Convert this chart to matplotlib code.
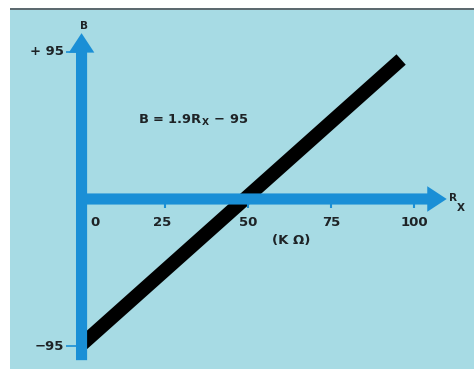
import matplotlib.pyplot as plt
from matplotlib.patches import Rectangle

# values
rx_line = [0, 96]          # R_X (kilo-ohm) at the ends of the drawn line
b_line = [-94, 90]         # B at the ends of the drawn line
x_ticks = [0, 25, 50, 75, 100]
x_tick_labels = ['0', '25', '50', '75', '100']
y_ticks = [95, -95]
y_tick_labels = ['+ 95', '\u221295']

bg = '#a7dbe4'
blue = '#1a8fd6'
ink = '#1e2326'

fig = plt.figure(figsize=(4.74, 3.69), dpi=100)
fig.patch.set_facecolor('white')

ax = fig.add_axes([0, 0, 1, 1])
ax.set_xlim(-24.5, 117.9)
ax.set_ylim(-109.7, 128.4)
ax.axis('off')

# light blue card with a grey top edge, white margin on left and top
ax.add_patch(Rectangle((10 / 474, 0), 1, 1 - 9 / 369, transform=fig.transFigure,
                       facecolor=bg, edgecolor='none', zorder=0))
ax.add_patch(Rectangle((10 / 474, 1 - 10 / 369), 1, 2 / 369, transform=fig.transFigure,
                       facecolor='#5d6a70', edgecolor='none', zorder=0))

# B = 1.9 Rx - 95  (under the axis arrows)
ax.plot(rx_line, b_line, color='black', lw=10, solid_capstyle='butt', zorder=3)

# axes drawn as thick blue arrows
arrow = dict(arrowstyle='simple,head_length=0.7,head_width=0.92,tail_width=0.4',
             color=blue, lw=0, shrinkA=0, shrinkB=0, mutation_scale=20)
ax.annotate('', xy=(0, 107), xytext=(0, -104), arrowprops=arrow, zorder=4)
ax.annotate('', xy=(109.7, 0), xytext=(-1.6, 0), arrowprops=arrow, zorder=4)

# small tick marks
for t in x_ticks[1:]:
    ax.plot([t, t], [-2, -6], color=blue, lw=1.5, solid_capstyle='butt', zorder=4)
for t in y_ticks:
    ax.plot([-4.6, -1.5], [t, t], color=blue, lw=1.2, solid_capstyle='butt', zorder=4)

fs = 9.5
shift = {0: 4, 25: -0.8}
for t, lab in zip(x_ticks, x_tick_labels):
    ax.text(t + shift.get(t, 0), -15, lab, ha='center', va='center',
            fontsize=fs, color=ink, fontweight='bold')
for t, lab in zip(y_ticks, y_tick_labels):
    ax.text(-5.3, t, lab, ha='right', va='center', fontsize=fs, color=ink, fontweight='bold')

ax.text(0.6, 111.6, 'B', ha='center', va='center', fontsize=7.5, color=ink, fontweight='bold')
ax.text(110.3, 0.5, 'R', ha='left', va='center', fontsize=7.5, color=ink, fontweight='bold')
ax.text(112.6, -5.5, 'X', ha='left', va='center', fontsize=7.5, color=ink, fontweight='bold')
ax.text(17, 51, 'B = 1.9R$_{\\,\\mathbf{X}}$ \u2212 95', ha='left', va='center', fontsize=9.4,
        color=ink, fontweight='bold')
ax.text(62.9, -26.5, '(K \u03a9)', ha='center', va='center', fontsize=fs, color=ink,
        fontweight='bold')

fig.savefig('out.png', dpi=100)
